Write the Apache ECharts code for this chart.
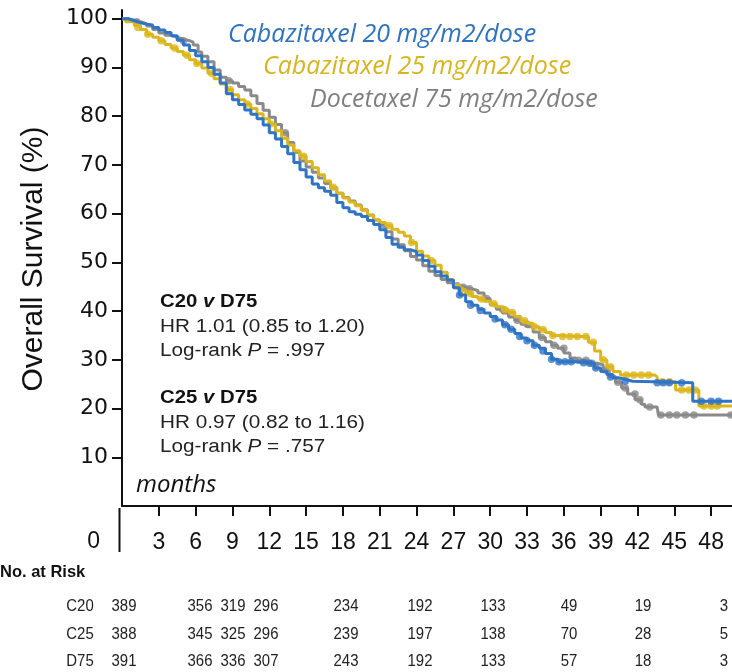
<!DOCTYPE html>
<html>
<head>
<meta charset="utf-8">
<script src="https://cdn.jsdelivr.net/npm/echarts@6/dist/echarts.min.js"></script>
<style>
  html, body { margin: 0; padding: 0; background: #fff; }
  #chart { width: 732px; height: 672px; }
</style>
</head>
<body>
<div id="chart"></div>
<script>
// Kaplan-Meier overall survival, months vs. % alive
const xTicks = [3, 6, 9, 12, 15, 18, 21, 24, 27, 30, 33, 36, 39, 42, 45, 48];
const yTicks = [10, 20, 30, 40, 50, 60, 70, 80, 90, 100];

const armNames = ['Cabazitaxel 20 mg/m2/dose', 'Cabazitaxel 25 mg/m2/dose', 'Docetaxel 75 mg/m2/dose'];

// survival curves: [month, survival %]
const c20Curve = [[0,100],[0.5,99.6],[1,99.2],[1.5,98.9],[2,98.7],[2.5,98.2],[3,97.7],[3.5,97.2],[4,96.5],[4.5,95.6],[5,94.6],[5.5,93.5],[6,92.4],[6.5,91.2],[7,90],[7.5,88.6],[8,86.8],[8.5,84.6],[9,83.4],[9.5,82.4],[10,81.3],[10.5,80.4],[11,79.5],[11.5,78.2],[12,76.6],[12.5,75.3],[13,73.8],[13.5,72.3],[14,70.5],[14.5,69],[15,67.5],[15.5,66.1],[16,65.3],[16.5,64.6],[17,63.8],[17.5,62.3],[18,61.2],[18.5,60.4],[19,59.9],[19.5,59.4],[20,58.6],[20.5,57.8],[21,56.7],[21.5,55.1],[22,53.7],[22.5,53.1],[23,52.6],[23.5,52.2],[24,51.5],[24.5,50.4],[25,49.2],[25.5,48.1],[26,47.2],[26.5,46.4],[27,44.8],[27.5,43.3],[28,41.9],[28.5,41.2],[29,40.4],[29.5,39.6],[30,38.9],[30.5,38.2],[31,37.2],[31.5,36.3],[32,35.4],[32.5,34.5],[33,33.9],[33.5,33],[34,32.4],[34.5,31.3],[35,30.1],[35.5,29.6],[37,29.4],[38,29.3],[38.5,28.3],[39,27.6],[39.5,27],[40,26.3],[40.5,26],[41,25.6],[41.6,25.3],[46.5,21.5],[49.7,21.5]];
const c25Curve = [[0,100],[0.3,99.4],[1,98.6],[1.5,97.8],[2,96.8],[2.5,96.2],[3,95.5],[3.5,94.7],[4,94],[4.5,93.3],[5,92.5],[5.5,91.6],[6,90.8],[6.5,89.9],[7,88.8],[7.5,87.7],[8,86.6],[8.5,85.5],[9,84.4],[9.5,83.4],[10,82.5],[10.5,81.6],[11,80.5],[11.5,79.5],[12,78.4],[12.5,77],[13,75.5],[13.5,74.1],[14,72.9],[14.5,71.8],[15,70.7],[15.5,69.4],[16,68],[16.5,66.7],[17,65.4],[17.5,64.2],[18,63.2],[18.5,62.4],[19,61.6],[19.5,60.7],[20,59.6],[20.5,58.7],[21,58.2],[21.5,57.5],[22,56.8],[22.5,56.2],[23,55.4],[23.5,54.1],[24,52.3],[24.5,51.3],[25,50.4],[25.5,49.4],[26,48],[26.5,46.5],[27,45.3],[27.5,44.4],[28,43.6],[28.5,43],[29,42.5],[29.5,42],[30,41.5],[30.5,40.9],[31,40.3],[31.5,39.7],[32,38.9],[32.5,38],[33,37.5],[33.5,36.8],[34,36.2],[34.5,35.6],[35,35],[35.5,34.8],[37.5,34.8],[38,33.6],[38.5,31.8],[39,30],[39.5,28.6],[40,27.6],[40.6,26.9],[43.4,26.5],[43.6,25.5],[45.1,23.8],[47,20.5],[49.7,20.5]];
const d75Curve = [[0,100],[0.5,99.7],[1,99.4],[1.5,99],[2,98.5],[2.5,97.8],[3,97.1],[3.5,96.6],[4,96.2],[4.5,95.8],[5,95.5],[5.5,95.2],[5.8,94.6],[6.2,93.2],[6.5,92.3],[7,91.2],[7.5,89.5],[8,88],[8.5,87.3],[9,86.8],[9.5,86.1],[10,85.4],[10.5,84.2],[11,82.6],[11.5,81.2],[12,79.8],[12.5,78.3],[13,76.6],[13.5,74.6],[14,72.6],[14.5,70.8],[15,69.6],[15.5,68.5],[16,67.3],[16.5,66.2],[17,65.2],[17.5,64.2],[18,63.3],[18.5,62.6],[19,61.8],[19.5,60.8],[20,59.7],[20.5,58.7],[21,57.7],[21.5,56.3],[22,54.8],[22.5,53.6],[23,52.4],[23.5,51.2],[24,50.5],[24.5,49.3],[25,48.2],[25.5,47.3],[26,46.5],[26.5,45.8],[27,45.2],[27.5,44.9],[28,44.6],[28.5,44.2],[29,43.7],[29.5,42.6],[30,41.3],[30.5,40.4],[31,39.6],[31.5,38.8],[32,38.1],[32.5,37.3],[33,36.8],[33.5,35.7],[34,34.6],[34.5,33.7],[35,33],[35.5,32.4],[36,31.4],[36.5,30.4],[37,29.9],[38,29.3],[38.7,29],[39.2,27.9],[39.7,26.6],[40.2,25.4],[40.7,24.2],[41.2,23],[41.8,21.8],[42.3,20.9],[42.6,20.3],[43.6,20.1],[43.7,18.7],[49.7,18.7]];

// censored observations: [month, survival %]
const c20Censored = [[27.5,43.3],[28.4,41.2],[29.2,40.1],[30.4,38.4],[31.2,37.2],[31.7,36.3],[32.4,34.8],[33,33.9],[33.6,33],[34.3,31.8],[35,30.1],[35.6,29.6],[36.1,29.6],[36.6,29.6],[37.6,29.4],[38.1,29.3],[38.6,28.3],[39.8,26.5],[41,25.6],[43.6,25.3],[44.1,25.3],[44.6,25.3],[45.6,25.3],[47.2,21.5],[48,21.5],[48.6,21.5]];
const c25Censored = [[1.3,98.2],[2.1,96.8],[3.2,95.5],[4.3,94],[5.3,92.5],[6.1,90.8],[7.3,88.8],[8.8,85.5],[10.2,82.5],[12.1,78.4],[14.8,71.8],[17.2,65.4],[21.8,57.5],[23.6,54.1],[25.2,50.4],[27.6,44.4],[28.4,43.6],[29.3,42.5],[30.3,41.5],[31.2,40.3],[31.8,39.7],[32.8,38],[33.6,36.8],[34.3,36.2],[35.1,35],[35.9,34.8],[36.5,34.8],[37.1,34.8],[37.8,34.8],[38.4,33.6],[39.2,30],[39.8,28.6],[41.1,26.9],[41.7,26.9],[42.3,26.9],[42.9,26.9],[44,25.5],[44.6,25.5],[45.6,23.8],[46.2,23.8],[46.7,23.8],[47.4,20.5],[48,20.5],[48.5,20.5]];
const d75Censored = [[1.2,99.4],[5,95.5],[8.7,87.3],[13.3,76.6],[21.3,57.7],[27.3,45.2],[27.8,44.9],[28.3,44.6],[29.7,42.6],[31,40.4],[32.2,38.1],[33,37.3],[34.2,34.6],[35.2,33],[36,32.4],[37.2,29.9],[37.8,29.9],[38.3,29.3],[39.4,27.9],[40.4,25.4],[41,24.2],[41.8,23],[42.2,21.8],[43,20.3],[43.9,18.7],[44.6,18.7],[45.2,18.7],[45.9,18.7],[46.6,18.7],[49.6,18.7]];

// numbers at risk
const riskRows = ['C20', 'C25', 'D75'];
const riskC20 = [389, 356, 319, 296, 234, 192, 133, 49, 19, 3];
const riskC25 = [388, 345, 325, 296, 239, 197, 138, 70, 28, 5];
const riskD75 = [391, 366, 336, 307, 243, 192, 133, 57, 18, 3];

const statLines = [
  ['C20', 'D75', 'HR 1.01 (0.85 to 1.20)', '.997'],
  ['C25', 'D75', 'HR 0.97 (0.82 to 1.16)', '.757']
];

// ---- presentation ----
const colors = ['#2f74c5', '#dcb61c', '#8a8a8a'];
const textColors = ['#2e73c3', '#d8b41e', '#7f7f7f'];
const riskColX = [124, 200, 233, 266, 346, 420, 493, 569, 643, 724];
const riskRowY = [606, 634, 661];

const chart = echarts.init(document.getElementById('chart'), null, { renderer: 'canvas' });

function curveSeries(data, color, z) {
  return { type: 'line', step: 'end', data: data, showSymbol: false, symbol: 'none',
    lineStyle: { color: color, width: 3 }, z: z, animation: false, silent: true };
}
function censorSeries(data, color, z) {
  return { type: 'scatter', data: data, symbol: 'circle', symbolSize: 7.5,
    itemStyle: { color: color }, z: z, animation: false, silent: true };
}

const graphics = [];
// arm names
const legendPos = [[228, 35], [263, 67], [310, 100]];
armNames.forEach((n, i) => {
  graphics.push({ type: 'text', x: legendPos[i][0], y: legendPos[i][1], style: {
    text: n, fill: textColors[i], font: 'italic 25px "Open Sans"', textVerticalAlign: 'middle' } });
});
// comparison statistics
const statTop = [302, 398];
const statFont = '18.5px "Liberation Sans"';
statLines.forEach((s, i) => {
  const y0 = statTop[i];
  graphics.push({ type: 'text', x: 160, y: y0, scaleX: 1.1, style: {
    text: '{b|' + s[0] + ' }{bi|v}{b| ' + s[1] + '}', textVerticalAlign: 'middle',
    rich: { b: { font: 'bold 18.5px "Liberation Sans"', fill: '#111' },
            bi: { font: 'italic bold 18.5px "Liberation Sans"', fill: '#111' } } } });
  graphics.push({ type: 'text', x: 160, y: y0 + 25, scaleX: 1.12, style: {
    text: s[2], fill: '#222', font: statFont, textVerticalAlign: 'middle' } });
  graphics.push({ type: 'text', x: 160, y: y0 + 49, scaleX: 1.12, style: {
    text: '{n|Log-rank }{i|P}{n| = ' + s[3] + '}', textVerticalAlign: 'middle',
    rich: { n: { font: statFont, fill: '#222' },
            i: { font: 'italic ' + statFont, fill: '#222' } } } });
});
// axis captions
graphics.push({ type: 'text', x: 136, y: 485, style: {
  text: 'months', fill: '#111', font: 'italic 24px "Open Sans"', textVerticalAlign: 'middle' } });
graphics.push({ type: 'text', x: 34, y: 259, rotation: Math.PI / 2, style: {
  text: 'Overall Survival (%)', fill: '#111', font: '30px "Liberation Sans"',
  textAlign: 'center', textVerticalAlign: 'middle' } });
graphics.push({ type: 'text', x: 100, y: 542, style: {
  text: '0', fill: '#111', font: '23px "Liberation Sans"', textAlign: 'right', textVerticalAlign: 'middle' } });
graphics.push({ type: 'line', shape: { x1: 119.5, y1: 508, x2: 119.5, y2: 552 },
  style: { stroke: '#111', lineWidth: 2 } });
// at-risk table
graphics.push({ type: 'text', x: 0, y: 572, style: {
  text: 'No. at Risk', fill: '#111', font: 'bold 16.5px "Liberation Sans"', textVerticalAlign: 'middle' } });
[riskC20, riskC25, riskD75].forEach((row, r) => {
  graphics.push({ type: 'text', x: 80, y: riskRowY[r], scaleX: 0.88, style: {
    text: riskRows[r], fill: '#222', font: '17px "Liberation Sans"', textAlign: 'center', textVerticalAlign: 'middle' } });
  row.forEach((v, c) => {
    graphics.push({ type: 'text', x: riskColX[c], y: riskRowY[r], scaleX: 0.88, style: {
      text: String(v), fill: '#222', font: '17px "Liberation Sans"', textAlign: 'center', textVerticalAlign: 'middle' } });
  });
});

chart.setOption({
  animation: false,
  backgroundColor: '#fff',
  grid: { left: 122, right: 0, top: 10, bottom: 166, containLabel: false },
  xAxis: {
    type: 'value', min: 0, max: 49.7,
    axisLine: { show: true, lineStyle: { color: '#111', width: 2 } },
    axisTick: { show: true, inside: false, length: 10, customValues: xTicks, lineStyle: { color: '#111', width: 2 } },
    axisLabel: { show: true, customValues: xTicks, margin: 25, color: '#111', fontSize: 23, fontFamily: 'Liberation Sans' },
    splitLine: { show: false }
  },
  yAxis: {
    type: 'value', min: 0, max: 101.8,
    axisLine: { show: true, lineStyle: { color: '#111', width: 2 } },
    axisTick: { show: true, length: 10, customValues: yTicks, lineStyle: { color: '#111', width: 2 } },
    axisLabel: { show: true, customValues: yTicks, margin: 14, color: '#111', fontSize: 22, fontFamily: 'DejaVu Sans' },
    splitLine: { show: false }
  },
  series: [
    curveSeries(d75Curve, colors[2], 2), censorSeries(d75Censored, colors[2], 2),
    curveSeries(c25Curve, colors[1], 3), censorSeries(c25Censored, colors[1], 3),
    curveSeries(c20Curve, colors[0], 4), censorSeries(c20Censored, colors[0], 4)
  ],
  graphic: graphics
});
</script>
</body>
</html>
